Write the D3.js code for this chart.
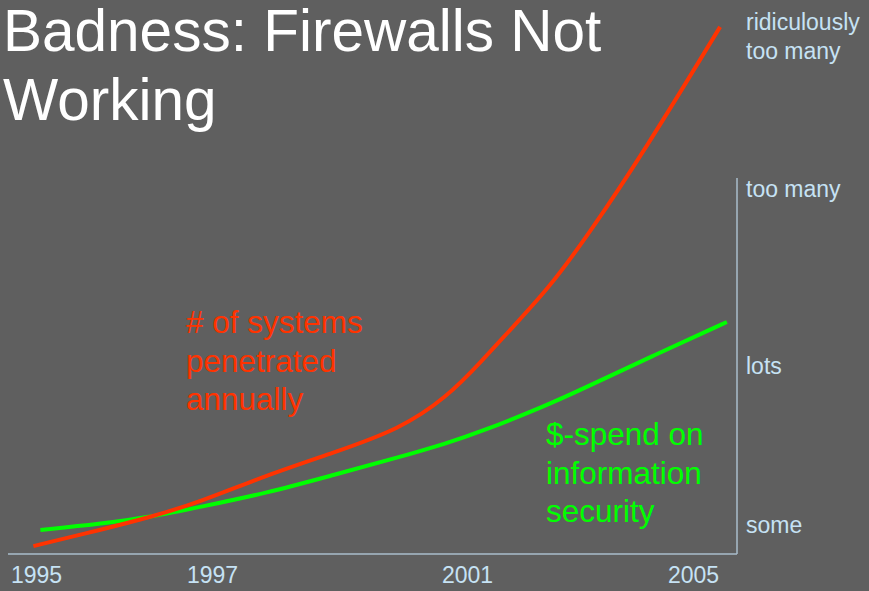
<!DOCTYPE html>
<html>
<head>
<meta charset="utf-8">
<script src="https://cdn.jsdelivr.net/npm/d3@7"></script>
<style>
  html, body { margin: 0; padding: 0; background: #5f5f5f; }
  svg { display: block; }
</style>
</head>
<body>
<div id="chart"></div>
<script>
// ---- data ----
const xTickYears = [1995, 1997, 2001, 2005];
const yLevelLabels = ["some", "lots", "too many", "ridiculously|too many"];
const yLevelValues = [5.6, 48, 95, 139.4];

const penetratedYears = [1994.97, 1995.73, 1996.30, 1996.86, 1997.86, 1998.90, 1999.95, 2000.69, 2001.23, 2001.81, 2002.42, 2003.12, 2004.15, 2005.48];
const penetratedValues = [2.1, 6.4, 9.8, 13.8, 21.0, 26.9, 33.2, 41.8, 50.8, 60.4, 70.2, 84.3, 107.4, 140.2];

const spendYears = [1995.05, 1995.73, 1996.30, 1996.86, 1997.86, 1998.90, 1999.95, 2000.69, 2001.23, 2002.42, 2003.00, 2004.29, 2005.60];
const spendValues = [6.4, 8.0, 9.8, 12.5, 16.2, 21.0, 25.8, 29.5, 32.4, 39.6, 43.6, 52.7, 61.7];

const titleLines = ["Badness: Firewalls Not", "Working"];
const redLabel = ["# of systems", "penetrated", "annually"];
const greenLabel = ["$-spend on", "information", "security"];

// ---- layout ----
const W = 869, H = 591;
const RED = "#ff3300", GREEN = "#00ff00", LABEL = "#c6e2f4", AXIS = "#a9bccb";
const FONT = "'Liberation Sans', Arial, Helvetica, sans-serif";

const svg = d3.select("#chart").append("svg").attr("width", W).attr("height", H);
svg.append("rect").attr("width", W).attr("height", H).attr("fill", "#5f5f5f");

const x = d3.scaleLinear().domain(xTickYears).range([36, 212, 467, 693]);
const y = d3.scaleLinear().domain([0, 100]).range([554, 178]);

// title
svg.append("g").selectAll("text").data(titleLines).join("text")
  .attr("x", 3).attr("y", (d, i) => 51 + i * 69)
  .attr("fill", "#ffffff").attr("font-family", FONT).attr("font-size", 58.5)
  .text(d => d);

// axes frame
const axisG = svg.append("g");
axisG.append("line").attr("x1", 8).attr("x2", 737).attr("y1", y(0)).attr("y2", y(0))
  .attr("stroke", AXIS).attr("stroke-width", 1.5);
axisG.append("line").attr("x1", 737).attr("x2", 737).attr("y1", y(0)).attr("y2", y(100))
  .attr("stroke", AXIS).attr("stroke-width", 1.5);

// x tick labels
const xAxis = svg.append("g").attr("transform", `translate(0,${y(0)})`)
  .call(d3.axisBottom(x).tickValues(xTickYears).tickFormat(d3.format("d")).tickSize(0).tickPadding(13));
xAxis.select(".domain").remove();
xAxis.selectAll("text").attr("fill", LABEL).attr("font-family", FONT).attr("font-size", 23)
  .attr("dy", "0.71em");

// y level labels
const yl = svg.append("g");
yLevelLabels.forEach((lab, i) => {
  lab.split("|").forEach((line, j) => {
    yl.append("text").attr("x", 746).attr("y", y(yLevelValues[i]) + j * 29)
      .attr("fill", LABEL).attr("font-family", FONT).attr("font-size", 23)
      .text(line);
  });
});

// lines
const line = d3.line().x(d => x(d[0])).y(d => y(d[1])).curve(d3.curveBasis);
const redData = penetratedYears.map((v, i) => [v, penetratedValues[i]]);
const greenData = spendYears.map((v, i) => [v, spendValues[i]]);

svg.append("path").datum(greenData).attr("d", line)
  .attr("fill", "none").attr("stroke", GREEN).attr("stroke-width", 4);
svg.append("path").datum(redData).attr("d", line)
  .attr("fill", "none").attr("stroke", RED).attr("stroke-width", 4);

// annotations
svg.append("g").selectAll("text").data(redLabel).join("text")
  .attr("x", 186).attr("y", (d, i) => 333 + i * 38.5)
  .attr("fill", RED).attr("font-family", FONT).attr("font-size", 31.5).text(d => d);
svg.append("g").selectAll("text").data(greenLabel).join("text")
  .attr("x", 546).attr("y", (d, i) => 445 + i * 38.5)
  .attr("fill", GREEN).attr("font-family", FONT).attr("font-size", 31.5).text(d => d);
</script>
</body>
</html>
